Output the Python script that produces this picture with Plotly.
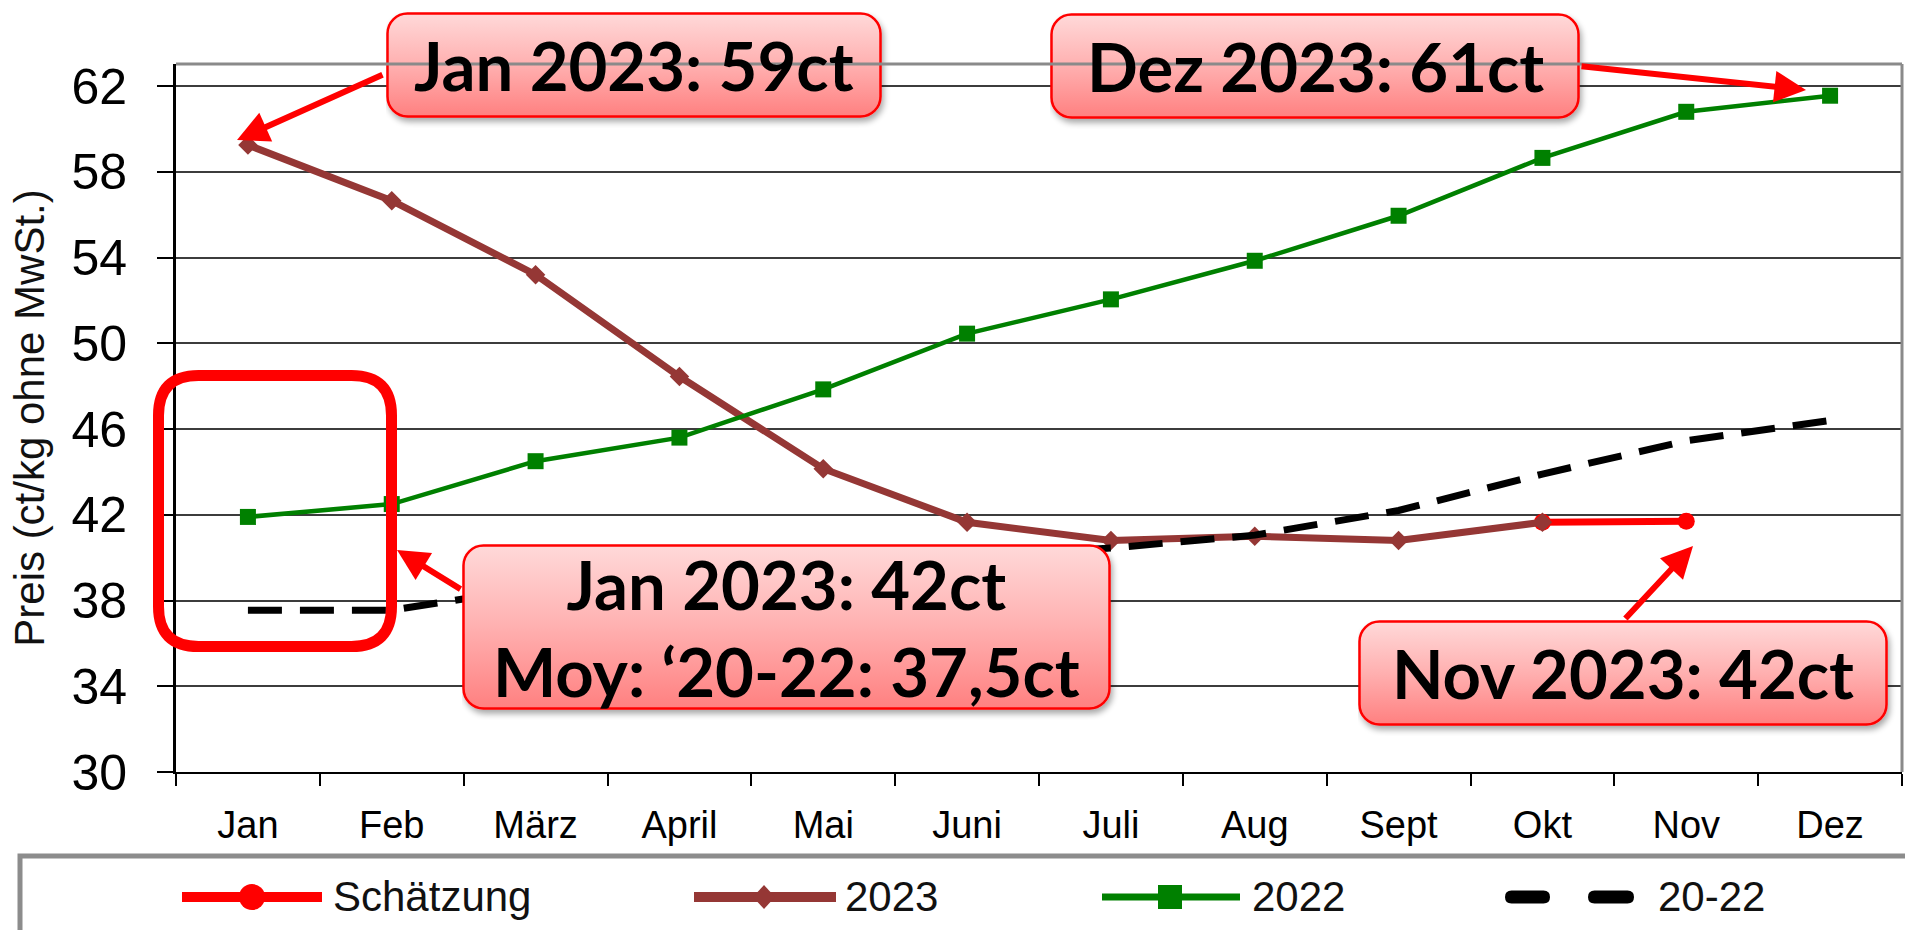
import base64
import plotly.graph_objects as go

# ---------------- data ----------------
months = ["Jan", "Feb", "März", "April", "Mai", "Juni", "Juli", "Aug", "Sept", "Okt", "Nov", "Dez"]
schaetzung = [None, None, None, None, None, None, None, None, None, 41.65, 41.7, None]
y2023 = [59.25, 56.65, 53.2, 48.45, 44.15, 41.65, 40.8, 41.0, 40.8, 41.65, None, None]
y2022 = [41.9, 42.5, 44.5, 45.6, 47.85, 50.45, 52.05, 53.85, 55.95, 58.65, 60.8, 61.55]
avg2022 = [37.55, 37.55, 38.6, 39.1, 39.6, 40.0, 40.45, 41.05, 42.2, 43.9, 45.45, 46.4]
y_ticks = [30, 34, 38, 42, 46, 50, 54, 58, 62]
series_names = ["Schätzung", "2023", "2022", "20-22"]
callouts = ["Jan 2023: 59ct", "Dez 2023: 61ct", "Jan 2023: 42ct<br>Moy: ‘20-22: 37,5ct", "Nov 2023: 42ct"]

# ---------------- layout geometry ----------------
W, H = 1905, 930
ML, MR, MT, MB = 176, 3, 64, 158
PW, PH = W - ML - MR, H - MT - MB


def px(xp):
    return (xp - ML) / PW


def py(yp):
    return (H - MB - yp) / PH


C_RED = "#ff0000"
C_BROWN = "#953735"
C_GREEN = "#008000"
C_BLACK = "#000000"

fig = go.Figure()
fig.add_trace(go.Scatter(x=months, y=schaetzung, name=series_names[0], mode="lines+markers",
                         line=dict(color=C_RED, width=7), marker=dict(symbol="circle", size=17, color=C_RED),
                         showlegend=False))
fig.add_trace(go.Scatter(x=months, y=y2023, name=series_names[1], mode="lines+markers",
                         line=dict(color=C_BROWN, width=7), marker=dict(symbol="diamond", size=15, color=C_BROWN),
                         showlegend=False))
fig.add_trace(go.Scatter(x=months, y=y2022, name=series_names[2], mode="lines+markers",
                         line=dict(color=C_GREEN, width=4.5), marker=dict(symbol="square", size=16, color=C_GREEN),
                         showlegend=False))
fig.add_trace(go.Scatter(x=months, y=avg2022, name=series_names[3], mode="lines",
                         line=dict(color=C_BLACK, width=7, dash="34px,18px"),
                         showlegend=False))

shapes = []
annotations = []
images = []

# frame top / right (gray)
shapes.append(dict(type="line", xref="paper", yref="paper", x0=0, x1=1, y0=1, y1=1,
                   line=dict(color="#8a8a8a", width=3), layer="above"))
shapes.append(dict(type="line", xref="paper", yref="paper", x0=1, x1=1, y0=0, y1=1,
                   line=dict(color="#8a8a8a", width=3), layer="above"))

# legend box
shapes.append(dict(type="rect", xref="paper", yref="paper", x0=px(20), x1=px(1930), y0=py(856), y1=py(990),
                   line=dict(color="#8c8c8c", width=5), fillcolor="rgba(0,0,0,0)", layer="above"))

LEG_Y = 897


def leg_line(x0, x1, color, width):
    shapes.append(dict(type="line", xref="paper", yref="paper", x0=px(x0), x1=px(x1), y0=py(LEG_Y), y1=py(LEG_Y),
                       line=dict(color=color, width=width), layer="above"))


def leg_text(x0, txt):
    annotations.append(dict(xref="paper", yref="paper", x=px(x0), y=py(LEG_Y), xanchor="left", yanchor="middle",
                            text=txt, showarrow=False,
                            font=dict(family="Liberation Sans, Arial", size=42, color="#111111")))


# Schätzung
leg_line(182, 322, C_RED, 10)
shapes.append(dict(type="circle", xref="paper", yref="paper", x0=px(252 - 13), x1=px(252 + 13),
                   y0=py(LEG_Y + 13), y1=py(LEG_Y - 13), fillcolor=C_RED, line=dict(width=0), layer="above"))
leg_text(331, series_names[0])
# 2023
leg_line(694, 836, C_BROWN, 10)
cx = 764
shapes.append(dict(type="path", xref="paper", yref="paper",
                   path=f"M{px(cx - 11)},{py(LEG_Y)} L{px(cx)},{py(LEG_Y - 12)} L{px(cx + 11)},{py(LEG_Y)} L{px(cx)},{py(LEG_Y + 12)} Z",
                   fillcolor=C_BROWN, line=dict(width=0), layer="above"))
leg_text(843, series_names[1])
# 2022
leg_line(1102, 1240, C_GREEN, 7)
cx = 1170
shapes.append(dict(type="rect", xref="paper", yref="paper", x0=px(cx - 12), x1=px(cx + 12),
                   y0=py(LEG_Y + 12), y1=py(LEG_Y - 12), fillcolor=C_GREEN, line=dict(width=0), layer="above"))
leg_text(1250, series_names[2])


# 20-22 dashes (pill shapes)
def pill(x0, x1, yc, hw):
    r = hw
    return (f"M{px(x0 + r)},{py(yc - r)} L{px(x1 - r)},{py(yc - r)} Q{px(x1)},{py(yc - r)} {px(x1)},{py(yc)} "
            f"Q{px(x1)},{py(yc + r)} {px(x1 - r)},{py(yc + r)} L{px(x0 + r)},{py(yc + r)} "
            f"Q{px(x0)},{py(yc + r)} {px(x0)},{py(yc)} Q{px(x0)},{py(yc - r)} {px(x0 + r)},{py(yc - r)} Z")


for a, b in [(1505, 1550), (1588, 1634)]:
    shapes.append(dict(type="path", xref="paper", yref="paper", path=pill(a, b, LEG_Y, 6.5),
                       fillcolor=C_BLACK, line=dict(width=0), layer="above"))
leg_text(1656, series_names[3])

# red highlight rounded rectangle
hx0, hx1, hy0, hy1, r = 158.5, 391.5, 375.5, 646.5, 40
hl_path = (f"M{px(hx0 + r)},{py(hy0)} L{px(hx1 - r)},{py(hy0)} Q{px(hx1)},{py(hy0)} {px(hx1)},{py(hy0 + r)} "
           f"L{px(hx1)},{py(hy1 - r)} Q{px(hx1)},{py(hy1)} {px(hx1 - r)},{py(hy1)} "
           f"L{px(hx0 + r)},{py(hy1)} Q{px(hx0)},{py(hy1)} {px(hx0)},{py(hy1 - r)} "
           f"L{px(hx0)},{py(hy0 + r)} Q{px(hx0)},{py(hy0)} {px(hx0 + r)},{py(hy0)} Z")
shapes.append(dict(type="path", xref="paper", yref="paper", path=hl_path,
                   line=dict(color=C_RED, width=11), fillcolor="rgba(0,0,0,0)", layer="above"))


# callout boxes as svg images (gradient + shadow), text as annotations on top
def box_svg(w, h):
    S = 10
    svg = (f'<svg xmlns="http://www.w3.org/2000/svg" width="{w + S}" height="{h + S}" viewBox="0 0 {w + S} {h + S}">'
           '<defs><linearGradient id="g" x1="0" y1="0" x2="0" y2="1">'
           '<stop offset="0" stop-color="#ffd9d9"/><stop offset="0.5" stop-color="#ffb0b0"/>'
           '<stop offset="1" stop-color="#ff8080"/></linearGradient>'
           '<filter id="s" x="-5%" y="-5%" width="115%" height="125%">'
           '<feGaussianBlur in="SourceAlpha" stdDeviation="3"/><feOffset dx="2" dy="4" result="o"/>'
           '<feComponentTransfer><feFuncA type="linear" slope="0.35"/></feComponentTransfer>'
           '<feMerge><feMergeNode/><feMergeNode in="SourceGraphic"/></feMerge></filter></defs>'
           f'<rect x="1.5" y="1.5" width="{w - 3}" height="{h - 3}" rx="20" ry="20" fill="url(#g)" '
           'stroke="#ff0000" stroke-width="2.5" filter="url(#s)"/></svg>')
    return "data:image/svg+xml;base64," + base64.b64encode(svg.encode("utf-8")).decode("ascii")


boxes = [  # x0, y0, x1, y1 (pixels)
    (386, 12, 882, 118),
    (1050, 13, 1580, 119),
    (462, 544, 1111, 710),
    (1358, 620, 1888, 726),
]
for (x0, y0, x1, y1), txt in zip(boxes, callouts):
    w, h = x1 - x0, y1 - y0
    images.append(dict(source=box_svg(w, h), xref="paper", yref="paper", x=px(x0), y=py(y0),
                       sizex=(w + 10) / PW, sizey=(h + 10) / PH, xanchor="left", yanchor="top",
                       sizing="stretch", layer="above"))
    annotations.append(dict(xref="paper", yref="paper", x=px((x0 + x1) / 2), y=py((y0 + y1) / 2),
                            xanchor="center", yanchor="middle", text=txt, showarrow=False,
                            font=dict(family="Lato", size=67, color="black", weight="bold")))

# arrows (head, tail) in pixels
arrows = [((237, 140), (384, 74)), ((1806, 90), (1580, 66)), ((397, 550), (462, 590)), ((1693, 546), (1624, 620))]
for (hx, hy), (tx, ty) in arrows:
    annotations.append(dict(xref="paper", yref="paper", x=px(hx), y=py(hy), ax=tx - hx, ay=ty - hy,
                            text="", showarrow=True, arrowhead=2, arrowsize=1.05, arrowwidth=6,
                            arrowcolor=C_RED, standoff=0, startstandoff=0))

fig.update_layout(
    width=W, height=H,
    margin=dict(l=ML, r=MR, t=MT, b=MB, autoexpand=False),
    paper_bgcolor="white", plot_bgcolor="white",
    showlegend=False,
    shapes=shapes, annotations=annotations, images=images,
    font=dict(family="Liberation Sans, Arial", color="black"),
)
fig.update_xaxes(type="category", categoryorder="array", categoryarray=months, range=[-0.5, 11.5],
                 tickson="boundaries", ticks="outside", ticklen=12, tickwidth=2, tickcolor="#000",
                 showgrid=False, showline=True, linecolor="#000", linewidth=2, zeroline=False,
                 tickfont=dict(family="Liberation Sans, Arial", size=38, color="#000"),
                 ticklabelstandoff=18, automargin=False)
fig.update_yaxes(range=[30, 63.03], tickvals=y_ticks, ticktext=[str(v) for v in y_ticks],
                 ticks="outside", ticklen=16, tickwidth=2, tickcolor="#000",
                 showgrid=True, gridcolor="#3c3c3c", gridwidth=2,
                 showline=True, linecolor="#000", linewidth=3, zeroline=False,
                 tickfont=dict(family="Liberation Sans, Arial", size=50, color="#000"),
                 ticklabelstandoff=20, automargin=False,
                 title=dict(text="Preis (ct/kg ohne MwSt.)", standoff=14,
                            font=dict(family="Liberation Sans, Arial", size=42, color="#111")))

fig.write_html("out.html", config={"displayModeBar": False},
               post_script="document.body.style.margin='0px';document.body.style.overflow='hidden';")
